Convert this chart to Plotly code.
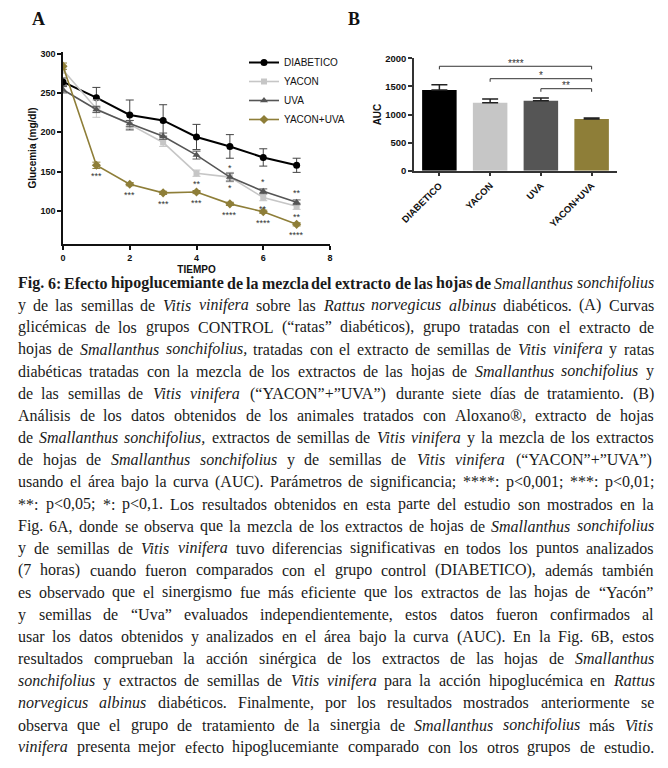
import plotly.graph_objects as go

# the page body keeps its default 8px margin, so the figure is made
# 16px smaller and every pixel position is measured from the window origin
OFF = 8
W, H = 668 - 2 * OFF, 768 - 2 * OFF

# ---------------- Panel A data ----------------
days = [0, 1, 2, 3, 4, 5, 6, 7]
diab = [264, 244, 222, 215, 194, 182, 168, 158]
diab_err = [5, 13, 19, 20, 16, 15, 11, 9]
yacon = [279, 230, 210, 187, 148, 143, 117, 106]
yacon_err = [4, 11, 5, 5, 4, 6, 4, 4]
uva = [254, 229, 211, 195, 171, 143, 125, 111]
uva_err = [4, 4, 4, 4, 5, 5, 3, 3]
yu = [284, 158, 134, 123, 124, 109, 99, 83]
yu_err = [4, 4, 2, 2, 2, 2, 2, 2]

stars_yu = ["", "***", "***", "***", "***", "****", "****", "****"]
stars_yacon = ["", "", "", "", "**", "*", "**", "**"]
stars_uva = ["", "", "", "", "", "*", "*", "**"]

ticks_a_y = [100, 150, 200, 250, 300]
ticks_a_x = [0, 2, 4, 6, 8]

# ---------------- Panel B data ----------------
groups = ["DIABETICO", "YACON", "UVA", "YACON+UVA"]
auc = [1436, 1210, 1245, 922]
auc_err = [95, 66, 48, 15]
ticks_b_y = [0, 500, 1000, 1500, 2000]
brackets_from = ["DIABETICO", "YACON", "UVA"]
brackets_to = ["YACON+UVA", "YACON+UVA", "YACON+UVA"]
brackets_level = [1858, 1637, 1459]
brackets_label = ["****", "*", "**"]

# ---------------- Caption ----------------
caption_lines = [
    "Fig. 6: Efecto hipoglucemiante de la mezcla del extracto de las hojas de _Smallanthus sonchifolius_",
    "y de las semillas de _Vitis vinifera_ sobre las _Rattus norvegicus albinus_ diabéticos. (A) Curvas",
    "glicémicas de los grupos CONTROL (“ratas” diabéticos), grupo tratadas con el extracto de",
    "hojas de _Smallanthus sonchifolius,_ tratadas con el extracto de semillas de _Vitis vinifera_ y ratas",
    "diabéticas tratadas con la mezcla de los extractos de las hojas de _Smallanthus sonchifolius_ y",
    "de las semillas de _Vitis vinifera_ (“YACON”+”UVA”) durante siete días de tratamiento. (B)",
    "Análisis de los datos obtenidos de los animales tratados con Aloxano®, extracto de hojas",
    "de _Smallanthus sonchifolius,_ extractos de semillas de _Vitis vinifera_ y la mezcla de los extractos",
    "de hojas de _Smallanthus sonchifolius_ y de semillas de _Vitis vinifera_ (“YACON”+”UVA”)",
    "usando el área bajo la curva (AUC). Parámetros de significancia; ****: p<0,001; ***: p<0,01;",
    "**: p<0,05; *: p<0,1. Los resultados obtenidos en esta parte del estudio son mostrados en la",
    "Fig. 6A, donde se observa que la mezcla de los extractos de hojas de _Smallanthus sonchifolius_",
    "y de semillas de _Vitis vinifera_ tuvo diferencias significativas en todos los puntos analizados",
    "(7 horas) cuando fueron comparados con el grupo control (DIABETICO), además también",
    "es observado que el sinergismo fue más eficiente que los extractos de las hojas de “Yacón”",
    "y semillas de “Uva” evaluados independientemente, estos datos fueron confirmados al",
    "usar los datos obtenidos y analizados en el área bajo la curva (AUC). En la Fig. 6B, estos",
    "resultados comprueban la acción sinérgica de los extractos de las hojas de _Smallanthus_",
    "_sonchifolius_ y extractos de semillas de _Vitis vinifera_ para la acción hipoglucémica en _Rattus_",
    "_norvegicus albinus_ diabéticos. Finalmente, por los resultados mostrados anteriormente se",
    "observa que el grupo de tratamiento de la sinergia de _Smallanthus sonchifolius_ más _Vitis_",
    "_vinifera_ presenta mejor efecto hipoglucemiante comparado con los otros grupos de estudio.",
]

# colours
C_D = "#000000"
C_Y = "#c6c6c6"
C_U = "#555555"
C_YU = "#8e7e38"

SANS = "Liberation Sans, Arial, sans-serif"
SERIF = "Liberation Serif, Times New Roman, serif"

# layout geometry (window pixels)
AX_L, AX_R, AX_T, AX_B = 63, 330, 52, 244
BX_L, BX_R, BX_T, BX_B = 414, 617, 58.3, 170.7


def px_x(p):
    return (p - OFF) / W


def px_y(p):
    return 1 - (p - OFF) / H


fig = go.Figure()

series = [
    ("DIABETICO", diab, diab_err, C_D, "circle", 7, 2.0, "#444444"),
    ("YACON", yacon, yacon_err, C_Y, "square", 6, 1.6, C_Y),
    ("UVA", uva, uva_err, C_U, "triangle-up", 7, 1.6, C_U),
    ("YACON+UVA", yu, yu_err, C_YU, "diamond", 7, 1.6, C_YU),
]
for name, vals, err, col, sym, ms, lw, ecol in series:
    fig.add_trace(go.Scatter(
        x=days, y=vals, name=name, mode="lines+markers",
        line=dict(color=col, width=lw),
        marker=dict(symbol=sym, size=ms, color=col),
        error_y=dict(type="data", array=err, visible=True, color=ecol,
                     thickness=1, width=4),
        xaxis="x", yaxis="y", showlegend=True,
    ))

fig.add_trace(go.Bar(
    x=groups, y=auc, marker=dict(color=[C_D, C_Y, C_U, C_YU], line=dict(width=0)),
    width=0.68,
    error_y=dict(type="data", symmetric=False, array=auc_err,
                 arrayminus=[0] * len(auc_err), color="#222222",
                 thickness=1.5, width=8),
    xaxis="x2", yaxis="y2", showlegend=False,
))

annotations = []
# stars panel A
for vals, stars, shift in [(yu, stars_yu, -10), (yacon, stars_yacon, -10), (uva, stars_uva, 10)]:
    for t, v, s in zip(days, vals, stars):
        if s:
            annotations.append(dict(
                x=t, y=v, xref="x", yref="y", text=s, showarrow=False,
                xanchor="center", yanchor="middle",
                yshift=shift - 1, font=dict(family=SANS, size=9, color="#333333"),
            ))

shapes = []
for a, b, lev, lab in zip(brackets_from, brackets_to, brackets_level, brackets_label):
    i0, i1 = groups.index(a), groups.index(b)
    shapes.append(dict(type="path", xref="x2", yref="y2",
                       path=f"M {i0},{lev - 55} L {i0},{lev} L {i1},{lev} L {i1},{lev - 55}",
                       line=dict(color="#333333", width=1)))
    annotations.append(dict(x=(i0 + i1) / 2, y=lev, xref="x2", yref="y2", text=lab,
                            showarrow=False, yshift=3, xanchor="center", yanchor="middle",
                            font=dict(family=SANS, size=10, color="#333333")))

# panel labels
annotations.append(dict(x=px_x(38.5), y=px_y(19), xref="paper", yref="paper", text="<b>A</b>",
                        xanchor="center", yanchor="middle",
                        showarrow=False, font=dict(family=SERIF, size=18, color="#111111")))
annotations.append(dict(x=px_x(353.5), y=px_y(19), xref="paper", yref="paper", text="<b>B</b>",
                        xanchor="center", yanchor="middle",
                        showarrow=False, font=dict(family=SERIF, size=18, color="#111111")))

# ---------------- justified caption ----------------
TR = dict(zip("abcdefghijklmnopqrstuvwxyz",
              [444, 500, 444, 500, 444, 333, 500, 500, 278, 278, 500, 278, 778, 500, 500, 500, 500, 333, 389, 278, 500, 500, 722, 500, 500, 444]))
TR.update(zip("ABCDEFGHIJKLMNOPQRSTUVWXYZ",
              [722, 667, 667, 722, 611, 556, 722, 722, 333, 389, 722, 611, 889, 722, 722, 556, 722, 667, 556, 611, 722, 722, 944, 722, 722, 611]))
TI = dict(zip("abcdefghijklmnopqrstuvwxyz",
              [500, 500, 444, 500, 444, 278, 500, 500, 278, 278, 444, 278, 722, 500, 500, 500, 500, 389, 389, 278, 500, 444, 667, 444, 444, 389]))
TI.update(zip("ABCDEFGHIJKLMNOPQRSTUVWXYZ",
              [611, 611, 667, 722, 611, 611, 722, 722, 333, 444, 667, 556, 833, 667, 722, 611, 722, 611, 500, 556, 722, 611, 833, 611, 556, 556]))
TB = dict(zip("abcdefghijklmnopqrstuvwxyz",
              [500, 556, 444, 556, 444, 333, 500, 556, 278, 333, 556, 278, 833, 556, 500, 556, 556, 444, 389, 333, 556, 500, 722, 500, 500, 444]))
TB.update(zip("ABCDEFGHIJKLMNOPQRSTUVWXYZ",
              [722, 667, 722, 722, 667, 611, 778, 778, 389, 500, 778, 667, 944, 722, 778, 611, 778, 722, 556, 667, 722, 722, 1000, 722, 722, 667]))
PUNCT = {" ": 250, ".": 250, ",": 250, ":": 278, ";": 278, "(": 333, ")": 333, "“": 444, "”": 444,
         '"': 408, "+": 564, "*": 500, "<": 564, "®": 760, "-": 333}
for d in "0123456789":
    PUNCT[d] = 500
ACC = {"á": "a", "é": "e", "í": "i", "ó": "o", "ú": "u", "ñ": "n", "Á": "A", "É": "E"}


def char_w(ch, it, bold):
    base = ACC.get(ch, ch)
    if base in PUNCT:
        w = PUNCT[base]
        if bold and base in ":;":
            w = 333
        return w / 1000
    table = TI if it else (TB if bold else TR)
    return table.get(base, 500) / 1000


def esc(s):
    return s.replace("&", "&amp;").replace("<", "&lt;").replace(">", "&gt;")


def tokenize(line):
    italic = False
    toks = []
    for w in line.split(" "):
        segs = []
        for ch in w:
            if ch == "_":
                italic = not italic
                continue
            segs.append((ch, italic))
        toks.append(segs)
    return toks


def word_html(segs, bold):
    out = ""
    cur = None
    buf = ""
    for ch, it in segs:
        if it != cur and buf:
            out += (f"<i>{esc(buf)}</i>" if cur else (f"<b>{esc(buf)}</b>" if bold else esc(buf)))
            buf = ""
        cur = it
        buf += ch
    if buf:
        out += (f"<i>{esc(buf)}</i>" if cur else (f"<b>{esc(buf)}</b>" if bold else esc(buf)))
    return out


LEFT, RIGHT = 18, 654
AVAIL = RIGHT - LEFT
BASE0, LSTEP = 288.5, 22.1

parsed = []
for i, line in enumerate(caption_lines):
    bold = (i == 0)
    toks = tokenize(line)
    units = [sum(char_w(c, it, bold and not it) for c, it in seg) for seg in toks]
    parsed.append((toks, units, bold))

fit = min(AVAIL / (sum(u) + 0.2 * (len(u) - 1)) for t, u, b in parsed[1:])
S = min(16.0, fit)

for i, (toks, units, bold) in enumerate(parsed):
    s = S
    n = len(toks)
    tot = sum(units) * s
    gap = (AVAIL - tot) / (n - 1)
    if gap < 0.2 * s:
        s = AVAIL / (sum(units) + 0.2 * (n - 1))
        tot = sum(units) * s
        gap = (AVAIL - tot) / (n - 1)
    base = BASE0 + i * LSTEP
    cy = base - 0.34 * s
    x = LEFT
    for segs, u in zip(toks, units):
        wpx = u * s
        annotations.append(dict(
            x=px_x(x + wpx / 2), y=px_y(cy), xref="paper", yref="paper",
            xanchor="center", yanchor="middle", showarrow=False, borderpad=0,
            text=word_html(segs, bold), font=dict(family=SERIF, size=s, color="#1a1a1a"),
        ))
        x += wpx + gap

axis_common = dict(showgrid=False, zeroline=False, showline=True, linewidth=1.5,
                   ticks="outside", ticklen=4, tickwidth=1.5, automargin=False)

fig.update_layout(
    template="none",
    width=W, height=H, margin=dict(l=0, r=0, t=0, b=0, pad=0, autoexpand=False),
    paper_bgcolor="white", plot_bgcolor="white",
    xaxis=dict(domain=[px_x(AX_L), px_x(AX_R)], range=[0, 8], tickvals=ticks_a_x,
               linecolor="#111111", tickcolor="#111111", anchor="y",
               tickfont=dict(family=SANS, size=9, color="#111111", weight="bold"),
               title=dict(text="TIEMPO", standoff=4,
                          font=dict(family=SANS, size=10, color="#111111", weight="bold")),
               **axis_common),
    yaxis=dict(domain=[px_y(AX_B), px_y(AX_T)], range=[58, 302], tickvals=ticks_a_y,
               linecolor="#111111", tickcolor="#111111", anchor="x",
               tickfont=dict(family=SANS, size=9, color="#111111", weight="bold"),
               title=dict(text="Glucemia (mg/dl)", standoff=2,
                          font=dict(family=SANS, size=10, color="#111111", weight="bold")),
               **axis_common),
    xaxis2=dict(domain=[px_x(BX_L), px_x(BX_R)], range=[-0.5, 3.5], anchor="y2",
                linecolor="#333333", tickcolor="#333333", tickangle=-45,
                tickfont=dict(family=SANS, size=9.5, color="#111111", weight="bold"),
                **axis_common),
    yaxis2=dict(domain=[px_y(BX_B), px_y(BX_T)], range=[0, 2000], tickvals=ticks_b_y,
                anchor="x2", linecolor="#333333", tickcolor="#333333",
                tickfont=dict(family=SANS, size=9.5, color="#111111", weight="bold"),
                title=dict(text="AUC", standoff=2,
                           font=dict(family=SANS, size=10, color="#111111", weight="bold")),
                **axis_common),
    legend=dict(x=px_x(244), y=px_y(48), xanchor="left", yanchor="top",
                font=dict(family=SANS, size=10, color="#111111"),
                bgcolor="rgba(0,0,0,0)", borderwidth=0, itemwidth=30),
    annotations=annotations,
    shapes=shapes,
    bargap=0.32,
)

fig.write_html("out.html", config={"displayModeBar": False})
